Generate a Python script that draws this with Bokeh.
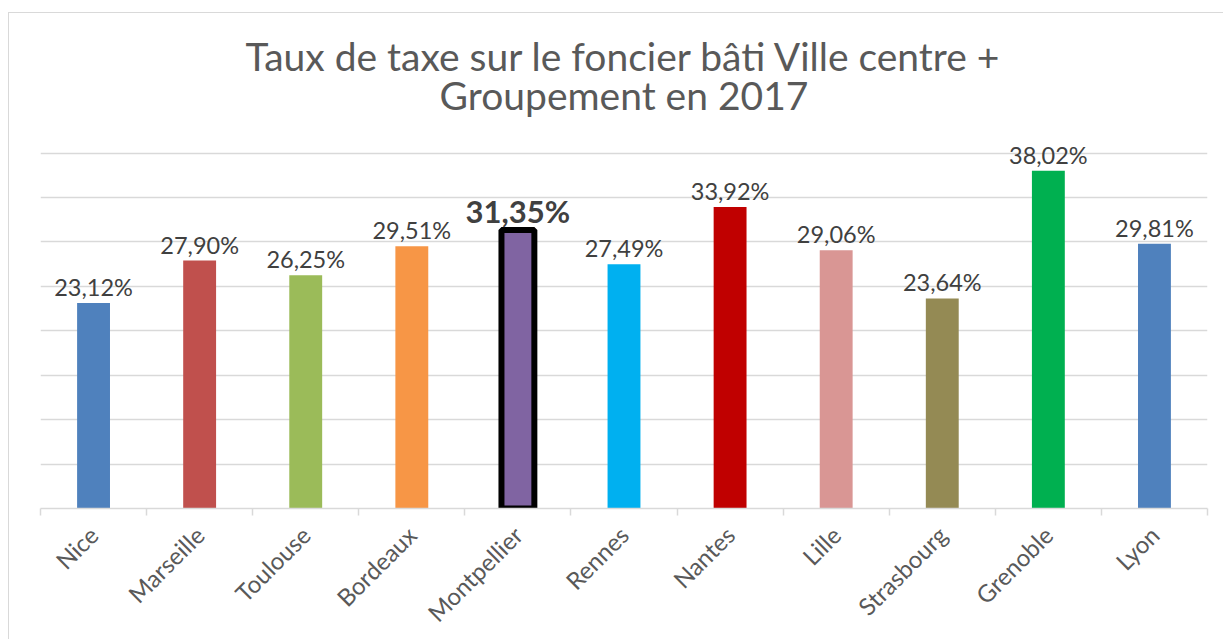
import math
from bokeh.plotting import figure
from bokeh.models import ColumnDataSource, FixedTicker, Label
from bokeh.core.properties import value
from bokeh.embed import file_html
from bokeh.resources import INLINE

# ---- data ----
cities = ["Nice", "Marseille", "Toulouse", "Bordeaux", "Montpellier", "Rennes",
          "Nantes", "Lille", "Strasbourg", "Grenoble", "Lyon"]
rates = [23.12, 27.90, 26.25, 29.51, 31.35, 27.49, 33.92, 29.06, 23.64, 38.02, 29.81]
colors = ["#4F81BD", "#C0504D", "#9BBB59", "#F79646", "#8064A2", "#00B0F0",
          "#C00000", "#D99694", "#948A54", "#00B050", "#4F81BD"]
highlight = "Montpellier"
title_lines = ["Taux de taxe sur le foncier bâti Ville centre +", "Groupement en 2017"]
grid_values = [5, 10, 15, 20, 25, 30, 35, 40]

labels = [f"{v:.2f}".replace(".", ",") + "%" for v in rates]
xs = list(range(len(cities)))

def subset(keep):
    idx = [i for i, c in enumerate(cities) if keep(c)]
    return ColumnDataSource(dict(
        x=[xs[i] for i in idx], top=[rates[i] for i in idx],
        color=[colors[i] for i in idx], label=[labels[i] for i in idx]))

src_norm = subset(lambda c: c != highlight)
src_hi = subset(lambda c: c == highlight)

# frame spans the whole chart height (title drawn inside it); 8.885 px per %
p = figure(x_range=(-0.5, len(cities) - 0.5), y_range=(0, 55.6),
           frame_width=1167, frame_height=494,
           min_border_left=31, min_border_right=16,
           min_border_top=1, min_border_bottom=124,
           output_backend="svg", toolbar_location=None)
p.margin = (12, 0, 0, 8)
p.styles = {"border-left": "1px solid #D9D9D9", "border-top": "1px solid #D9D9D9"}

# title lines, positioned in screen units relative to the frame (y up from frame bottom)
for line, ypos in zip(title_lines, [453, 414]):
    p.add_layout(Label(x=583.5, y=ypos, x_units="screen", y_units="screen",
                       text=line, text_align="center", text_baseline="alphabetic",
                       text_font="Lato", text_font_size="39px",
                       text_color="#595959"))

p.outline_line_color = None
p.background_fill_color = "white"
p.border_fill_color = "white"

p.yaxis.visible = False
p.xgrid.grid_line_color = None
p.ygrid.ticker = FixedTicker(ticks=grid_values)
p.ygrid.grid_line_color = "#D9D9D9"
p.ygrid.grid_line_width = 1.5

ax = p.xaxis[0]
ax.ticker = FixedTicker(ticks=xs, minor_ticks=[i - 0.5 for i in range(len(cities) + 1)])
ax.major_label_overrides = {i: c for i, c in zip(xs, cities)}
ax.major_tick_line_color = None
ax.minor_tick_in = 0
ax.minor_tick_out = 7
ax.minor_tick_line_color = "#D9D9D9"
ax.minor_tick_line_width = 1.5
ax.axis_line_color = "#D9D9D9"
ax.axis_line_width = 1.5
ax.major_label_orientation = math.pi / 4
ax.major_label_text_font = "Lato"
ax.major_label_text_font_size = "24px"
ax.major_label_text_color = "#595959"
ax.major_label_standoff = 15

p.vbar(x="x", top="top", width=0.31, fill_color="color", line_color=None, source=src_norm)
p.vbar(x="x", top="top", width=0.31, fill_color="color", line_color="black",
       line_width=6, source=src_hi)

p.text(x="x", y="top", text="label", source=src_norm, text_align="center",
       text_baseline="alphabetic", y_offset=-16, text_font=value("Lato"),
       text_font_size="23.5px", text_color="#404040")
p.text(x="x", y="top", text="label", source=src_hi, text_align="center",
       text_baseline="alphabetic", y_offset=-19, text_font=value("Lato"),
       text_font_size="31px", text_font_style="bold", text_color="#404040")

open("out.html", "w").write(file_html(p, INLINE))
